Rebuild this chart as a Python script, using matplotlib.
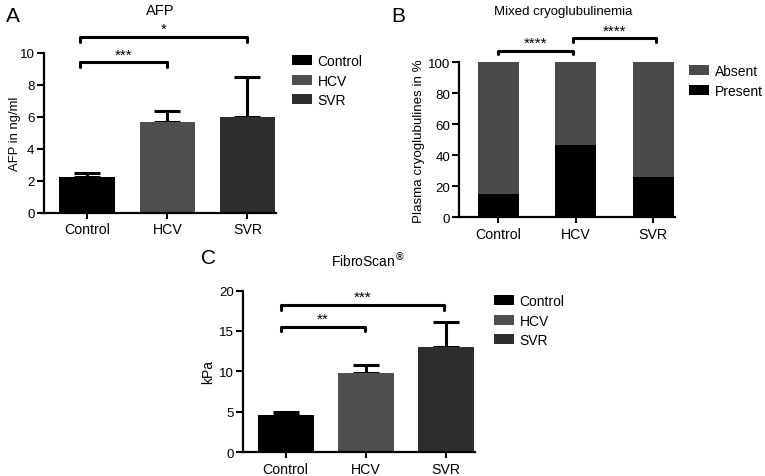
import matplotlib
matplotlib.use("Agg")
import matplotlib.pyplot as plt
import numpy as np

plt.rcParams['font.family'] = ['Liberation Sans', 'DejaVu Sans']

groups = ["Control", "HCV", "SVR"]
group_colors = ["#000000", "#4e4e4e", "#2e2e2e"]

afp_mean = [2.2, 5.65, 6.0]
afp_upper = [2.45, 6.35, 8.5]

cryo_present = [15, 46.5, 26]
cryo_absent = [100 - v for v in cryo_present]
cryo_labels = ["Absent", "Present"]
cryo_colors = ["#4a4a4a", "#000000"]

fibro_mean = [4.6, 9.85, 13.05]
fibro_upper = [4.95, 10.75, 16.1]

W, H = 765, 477
fig = plt.figure(figsize=(W / 100, H / 100), dpi=100)


def fx(px):
    return px / W


def fy(py):
    return 1 - py / H


def style_axes(ax, ymax, yticks):
    for s in ["top", "right"]:
        ax.spines[s].set_visible(False)
    for s in ["left", "bottom"]:
        ax.spines[s].set_linewidth(1.6)
    ax.set_ylim(0, ymax)
    ax.set_yticks(yticks)
    ax.tick_params(axis="y", length=5, width=1.5, labelsize=9.6, pad=1.5)
    ax.tick_params(axis="x", length=4, width=1.5, labelsize=10.2, pad=3)


def bracket(ax, x1, x2, y, text, dy, star_size=11):
    ax.plot([x1, x1, x2, x2], [y - dy, y, y, y - dy], color="black",
            lw=2.2, clip_on=False, solid_capstyle="round", solid_joinstyle="round")
    ax.text((x1 + x2) / 2, y + dy * 0.2, text, ha="center", va="bottom",
            fontsize=star_size, clip_on=False)


def bar_panel(ax, means, uppers, width):
    x = np.arange(len(groups))
    bars = ax.bar(x, means, width=width, color=group_colors, edgecolor="none", zorder=2)
    yerr = [np.zeros(len(means)), np.array(uppers) - np.array(means)]
    ax.errorbar(x, means, yerr=yerr, fmt="none", ecolor="black", elinewidth=2.2,
                capsize=9.7, capthick=2.2, zorder=1)
    ax.set_xticks(x)
    ax.set_xticklabels(groups)
    return bars


leg_kw = dict(bbox_transform=fig.transFigure, frameon=False, fontsize=10,
              handlelength=1.45, handleheight=0.7, handletextpad=0.4,
              labelspacing=0.4, borderpad=0, borderaxespad=0, loc="upper left")

# Panel A
axA = fig.add_axes([fx(43.5), fy(213.5), fx(276) - fx(43.5), fy(54) - fy(213.5)])
barsA = bar_panel(axA, afp_mean, afp_upper, 0.69)
style_axes(axA, 10, [0, 2, 4, 6, 8, 10])
axA.set_xlim(-0.544, 2.356)
axA.set_ylabel("AFP in ng/ml", fontsize=9.4)
axA.yaxis.set_label_coords(-0.097, 0.5)
bracket(axA, -0.09, 1.0, 9.42, "***", 0.3)
bracket(axA, -0.09, 2.0, 11.02, "*", 0.3)
axA.legend(barsA, groups, bbox_to_anchor=(fx(292), fy(55)), **leg_kw)
fig.text(fx(13), fy(16), "A", fontsize=15, ha="center", va="center")
fig.text(fx(160), fy(11), "AFP", fontsize=10.5, ha="center", va="center")

# Panel B
axB = fig.add_axes([fx(459.3), fy(218.3), fx(675) - fx(459.3), fy(63.3) - fy(218.3)])
xb = np.arange(len(groups))
bP = axB.bar(xb, cryo_present, width=0.53, color=cryo_colors[1], edgecolor="none")
bA = axB.bar(xb, cryo_absent, bottom=cryo_present, width=0.53, color=cryo_colors[0],
             edgecolor="none")
axB.set_xticks(xb)
axB.set_xticklabels(groups)
style_axes(axB, 100, [0, 20, 40, 60, 80, 100])
axB.set_xlim(-0.5, 2.28)
axB.set_ylabel("Plasma cryoglubulines in %", fontsize=9.6)
axB.yaxis.set_label_coords(-0.157, 0.5)
bracket(axB, 0.0, 0.96, 107.5, "****", 2.2)
bracket(axB, 0.97, 2.03, 115.5, "****", 2.2)
axB.legend([bA, bP], cryo_labels, bbox_to_anchor=(fx(689), fy(65)), **leg_kw)
fig.text(fx(398), fy(17), "B", fontsize=15, ha="center", va="center")
fig.text(fx(563), fy(12), "Mixed cryoglubulinemia", fontsize=9.5, ha="center", va="center")

# Panel C
axC = fig.add_axes([fx(242.7), fy(453.3), fx(475) - fx(242.7), fy(291.5) - fy(453.3)])
barsC = bar_panel(axC, fibro_mean, fibro_upper, 0.7)
style_axes(axC, 20, [0, 5, 10, 15, 20])
axC.set_xlim(-0.535, 2.36)
axC.set_ylabel("kPa", fontsize=10)
axC.yaxis.set_label_coords(-0.119, 0.5)
bracket(axC, -0.06, 0.99, 15.55, "**", 0.6)
bracket(axC, -0.06, 1.97, 18.25, "***", 0.6)
axC.legend(barsC, groups, bbox_to_anchor=(fx(494), fy(295)), **leg_kw)
fig.text(fx(209), fy(258), "C", fontsize=15, ha="center", va="center")
fig.text(fx(368), fy(261), "FibroScan$^{\\circledR}$", fontsize=10, ha="center", va="center")

fig.savefig("out.png", dpi=100)
